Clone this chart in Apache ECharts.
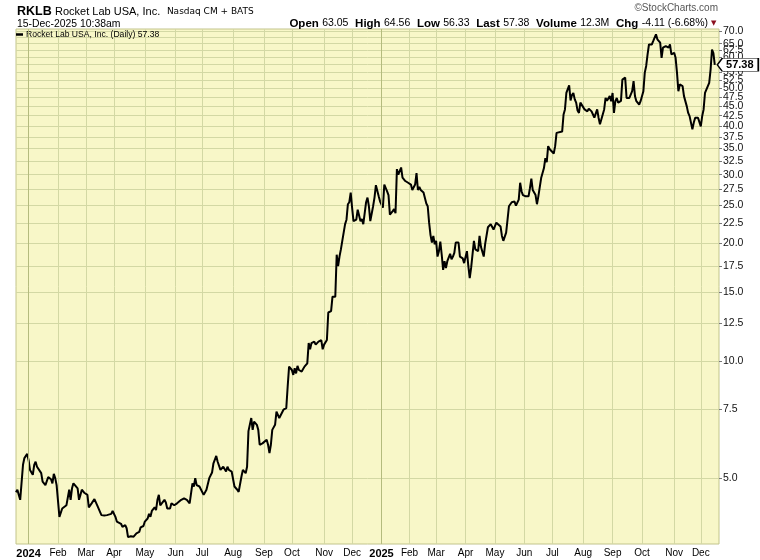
<!DOCTYPE html>
<html><head><meta charset="utf-8">
<script src="https://cdn.jsdelivr.net/npm/echarts@6/dist/echarts.min.js"></script>
<style>html,body{margin:0;padding:0;background:#fff}#c{width:760px;height:560px}</style>
</head><body><div id="c"></div>
<script>
// ---- axis definitions ----
const firstDay = '2023-12-18';
const lastDay = '2025-12-18';   // last close is 2025-12-15; three empty sessions pad the right edge
const holidays = ['2023-12-25','2024-01-01','2024-01-15','2024-02-19','2024-03-29','2024-05-27','2024-06-19','2024-07-04','2024-09-02','2024-11-28','2024-12-25','2025-01-01','2025-01-09','2025-01-20','2025-02-17','2025-04-18','2025-05-26','2025-06-19','2025-07-04','2025-09-01','2025-11-27','2025-12-25'];
const monthNames = ['Jan','Feb','Mar','Apr','May','Jun','Jul','Aug','Sep','Oct','Nov','Dec'];
const yTicks = [5.0,7.5,10.0,12.5,15.0,17.5,20.0,22.5,25.0,27.5,30.0,32.5,35.0,37.5,40.0,42.5,45.0,47.5,50.0,52.5,55.0,57.5,60.0,62.5,65.0,67.5,70.0];
const yearLines = ['2024-01-02','2025-01-02'];

// ---- daily closes ----
const prices2023 = [['2023-12-18',4.60],['2023-12-19',4.67],['2023-12-20',4.53],['2023-12-21',4.40],['2023-12-22',4.45],['2023-12-26',5.41],['2023-12-27',5.63],['2023-12-29',5.77]];
const prices2024 = [
['2024-01-02',5.56],['2024-01-03',5.25],['2024-01-04',5.20],['2024-01-05',5.10],['2024-01-08',5.41],['2024-01-09',5.51],['2024-01-10',5.35],['2024-01-11',5.30],['2024-01-16',5.15],['2024-01-17',4.90],['2024-01-19',4.80],['2024-01-23',5.03],['2024-01-25',4.97],['2024-01-26',4.85],['2024-01-29',5.13],['2024-01-30',5.00],['2024-01-31',4.80],
['2024-02-02',3.98],['2024-02-06',4.18],['2024-02-09',4.26],['2024-02-12',4.31],['2024-02-13',4.67],['2024-02-14',4.40],['2024-02-15',4.71],['2024-02-16',4.85],['2024-02-20',4.85],['2024-02-22',4.71],['2024-02-23',4.40],['2024-02-26',4.53],['2024-02-27',4.67],['2024-02-29',4.58],
['2024-03-04',4.53],['2024-03-05',4.21],['2024-03-07',4.31],['2024-03-11',4.42],['2024-03-12',4.47],['2024-03-13',4.26],['2024-03-14',4.21],['2024-03-18',4.02],['2024-03-20',4.01],['2024-03-22',4.02],['2024-03-27',4.05],['2024-03-28',4.12],
['2024-04-02',3.98],['2024-04-03',3.87],['2024-04-08',3.82],['2024-04-09',3.75],['2024-04-11',3.79],['2024-04-12',3.72],['2024-04-15',3.53],['2024-04-17',3.55],['2024-04-19',3.54],['2024-04-23',3.61],['2024-04-25',3.64],['2024-04-26',3.74],['2024-04-30',3.77],
['2024-05-01',3.87],['2024-05-03',3.94],['2024-05-06',4.05],['2024-05-07',3.98],['2024-05-08',4.12],['2024-05-10',4.21],['2024-05-13',4.14],['2024-05-14',4.40],['2024-05-15',4.53],['2024-05-16',4.26],['2024-05-17',4.21],['2024-05-21',4.40],['2024-05-22',4.33],['2024-05-23',4.18],['2024-05-28',4.18],['2024-05-29',4.31],['2024-05-31',4.26],
['2024-06-04',4.31],['2024-06-07',4.40],['2024-06-11',4.44],['2024-06-13',4.40],['2024-06-17',4.31],['2024-06-20',4.85],['2024-06-21',4.76],['2024-06-24',5.00],['2024-06-25',4.80],['2024-06-27',4.76],['2024-06-28',4.80],
['2024-07-02',4.53],['2024-07-05',4.67],['2024-07-09',5.00],['2024-07-11',5.17],['2024-07-12',5.46],['2024-07-16',5.70],['2024-07-17',5.51],['2024-07-19',5.25],['2024-07-22',5.20],['2024-07-23',5.35],['2024-07-25',5.20],['2024-07-26',5.35],['2024-07-29',5.25],['2024-07-31',5.20],
['2024-08-02',4.76],['2024-08-06',4.67],['2024-08-07',4.61],['2024-08-09',5.05],['2024-08-12',5.25],['2024-08-14',5.15],['2024-08-15',5.35],['2024-08-16',6.60],['2024-08-20',7.13],['2024-08-21',6.65],['2024-08-22',6.98],['2024-08-26',6.85],['2024-08-27',6.65],['2024-08-28',6.09],['2024-08-29',6.03],['2024-08-30',6.14],
['2024-09-03',6.09],['2024-09-05',6.27],['2024-09-06',6.09],['2024-09-09',5.80],['2024-09-10',6.09],['2024-09-11',6.65],['2024-09-13',6.85],['2024-09-16',7.41],['2024-09-18',7.13],['2024-09-19',7.13],['2024-09-23',7.49],['2024-09-25',7.56],['2024-09-26',8.59],['2024-09-27',9.66],
['2024-10-01',9.47],['2024-10-02',9.20],['2024-10-03',9.57],['2024-10-04',9.28],['2024-10-07',9.70],['2024-10-08',9.47],['2024-10-10',9.38],['2024-10-14',9.66],['2024-10-16',9.85],['2024-10-17',11.1],['2024-10-18',10.7],['2024-10-21',11.1],['2024-10-23',11.2],['2024-10-24',11.0],['2024-10-28',11.2],['2024-10-30',11.3],['2024-10-31',10.7],
['2024-11-01',11.0],['2024-11-05',11.3],['2024-11-06',13.3],['2024-11-08',13.4],['2024-11-11',14.6],['2024-11-13',14.6],['2024-11-14',18.7],['2024-11-15',17.5],['2024-11-18',18.5],['2024-11-19',19.3],['2024-11-20',20.3],['2024-11-21',20.2],['2024-11-22',22.4],['2024-11-25',23.0],['2024-11-26',25.2],['2024-11-27',25.5],['2024-11-29',27.0],
['2024-12-02',24.7],['2024-12-03',22.8],['2024-12-05',23.0],['2024-12-06',24.4],['2024-12-10',22.8],['2024-12-11',23.1],['2024-12-12',22.4],['2024-12-16',25.5],['2024-12-17',26.2],['2024-12-18',24.9],['2024-12-19',22.8],['2024-12-20',22.8],['2024-12-23',24.9],['2024-12-24',26.2],['2024-12-26',28.2],['2024-12-30',26.4],['2024-12-31',25.6]
];
const prices2025 = [
['2025-01-03',24.7],['2025-01-06',28.3],['2025-01-07',28.3],['2025-01-08',27.2],['2025-01-10',26.6],['2025-01-13',23.7],['2025-01-15',24.2],['2025-01-16',24.5],['2025-01-17',23.9],['2025-01-21',31.0],['2025-01-22',30.0],['2025-01-24',31.3],['2025-01-27',29.5],['2025-01-29',28.9],['2025-01-30',28.6],['2025-01-31',28.6],
['2025-02-03',28.3],['2025-02-04',28.3],['2025-02-05',27.4],['2025-02-07',28.3],['2025-02-10',30.3],['2025-02-11',27.4],['2025-02-12',27.9],['2025-02-13',27.4],['2025-02-18',27.0],['2025-02-20',25.3],['2025-02-21',24.9],['2025-02-24',22.6],['2025-02-25',21.0],['2025-02-26',20.1],['2025-02-27',20.9],['2025-02-28',19.9],
['2025-03-03',20.3],['2025-03-04',18.5],['2025-03-05',19.1],['2025-03-06',20.2],['2025-03-07',18.7],['2025-03-10',17.1],['2025-03-11',18.0],['2025-03-12',17.3],['2025-03-13',18.0],['2025-03-17',18.8],['2025-03-18',18.2],['2025-03-19',18.5],['2025-03-20',18.9],['2025-03-21',20.1],['2025-03-25',20.1],['2025-03-26',18.5],['2025-03-28',18.3],['2025-03-31',17.8],
['2025-04-02',19.1],['2025-04-03',17.5],['2025-04-04',16.3],['2025-04-07',17.3],['2025-04-08',17.1],['2025-04-09',20.3],['2025-04-10',19.3],['2025-04-14',19.1],['2025-04-15',20.9],['2025-04-16',19.6],['2025-04-21',18.5],['2025-04-22',19.9],['2025-04-24',22.0],['2025-04-28',22.4],['2025-04-29',22.4],['2025-04-30',21.7],
['2025-05-02',22.6],['2025-05-05',22.4],['2025-05-07',22.1],['2025-05-08',20.9],['2025-05-09',20.3],['2025-05-13',21.3],['2025-05-14',23.0],['2025-05-15',24.9],['2025-05-19',25.5],['2025-05-20',25.4],['2025-05-21',25.6],['2025-05-22',25.0],['2025-05-27',25.9],['2025-05-28',28.6],['2025-05-29',27.2],['2025-05-30',26.6],
['2025-06-03',26.4],['2025-06-05',26.4],['2025-06-06',27.7],['2025-06-09',29.3],['2025-06-10',27.4],['2025-06-12',26.6],['2025-06-13',25.2],['2025-06-16',26.4],['2025-06-17',26.4],['2025-06-18',29.4],['2025-06-23',31.2],['2025-06-24',33.1],['2025-06-25',32.3],['2025-06-26',35.5],['2025-06-27',34.9],['2025-06-30',35.2],
['2025-07-02',34.0],['2025-07-03',35.5],['2025-07-07',38.4],['2025-07-08',38.7],['2025-07-11',38.7],['2025-07-14',42.8],['2025-07-15',44.1],['2025-07-16',48.6],['2025-07-18',50.8],['2025-07-21',46.5],['2025-07-22',48.0],['2025-07-23',48.6],['2025-07-24',46.8],['2025-07-25',45.9],['2025-07-28',43.8],['2025-07-29',43.2],['2025-07-30',45.9],
['2025-08-01',44.7],['2025-08-04',44.1],['2025-08-06',43.6],['2025-08-07',44.3],['2025-08-11',43.6],['2025-08-12',42.8],['2025-08-13',42.0],['2025-08-15',44.1],['2025-08-18',42.0],['2025-08-19',40.4],['2025-08-20',40.8],['2025-08-22',44.1],['2025-08-25',47.2],['2025-08-26',46.4],['2025-08-28',47.7],['2025-08-29',46.3],
['2025-09-02',48.6],['2025-09-03',43.2],['2025-09-04',46.3],['2025-09-05',47.2],['2025-09-08',45.9],['2025-09-10',46.4],['2025-09-11',52.6],['2025-09-15',53.2],['2025-09-16',47.2],['2025-09-18',47.2],['2025-09-19',47.2],['2025-09-22',49.1],['2025-09-23',52.1],['2025-09-24',47.7],['2025-09-25',46.3],['2025-09-29',45.4],['2025-09-30',46.3],
['2025-10-02',49.1],['2025-10-03',54.8],['2025-10-06',57.0],['2025-10-07',61.0],['2025-10-08',64.7],['2025-10-09',65.4],['2025-10-10',64.7],['2025-10-13',66.0],['2025-10-15',68.7],['2025-10-16',66.7],['2025-10-17',67.3],['2025-10-20',65.4],['2025-10-21',59.8],['2025-10-22',63.5],['2025-10-24',64.1],['2025-10-27',64.7],['2025-10-28',63.5],['2025-10-29',64.7],['2025-10-30',61.0],
['2025-11-03',61.6],['2025-11-04',59.8],['2025-11-05',54.8],['2025-11-06',49.1],['2025-11-07',51.1],['2025-11-11',50.6],['2025-11-12',47.7],['2025-11-14',44.9],['2025-11-17',43.2],['2025-11-18',42.4],['2025-11-20',39.2],['2025-11-21',40.8],['2025-11-24',42.0],['2025-11-26',42.0],['2025-11-28',41.6],
['2025-12-01',39.9],['2025-12-02',42.4],['2025-12-03',44.1],['2025-12-04',48.6],['2025-12-05',48.8],['2025-12-09',51.6],['2025-12-10',55.8],['2025-12-11',62.8],['2025-12-12',61.49],['2025-12-15',57.38]
];

// ---- header texts ----
const symbolName = 'RKLB';
const companyName = 'Rocket Lab USA, Inc.';
const exchangeName = 'Nasdaq CM + BATS';
const stampText = '15-Dec-2025 10:38am';
const quoteLabels = ['Open','High','Low','Last','Volume','Chg'];
const quoteValues = ['63.05','64.56','56.33','57.38','12.3M','-4.11 (-6.68%)'];
const seriesName = 'Rocket Lab USA, Inc. (Daily) 57.38';
const lastClose = prices2025[prices2025.length - 1];

// ---- build trading-day categories ----
const pad = n => (n < 10 ? '0' : '') + n;
const tradingDays = [];
{
  const hol = new Set(holidays);
  const d = new Date(firstDay + 'T00:00:00Z');
  const end = new Date(lastDay + 'T00:00:00Z');
  while (d <= end) {
    const wd = d.getUTCDay();
    const s = d.getUTCFullYear() + '-' + pad(d.getUTCMonth() + 1) + '-' + pad(d.getUTCDate());
    if (wd !== 0 && wd !== 6 && !hol.has(s)) tradingDays.push(s);
    d.setUTCDate(d.getUTCDate() + 1);
  }
}
const isMonthStart = i => i > 0 && tradingDays[i].slice(5, 7) !== tradingDays[i - 1].slice(5, 7);

const FONT = '"Liberation Sans", Arial, sans-serif';
const GRID_COLOR = '#d3d8a4';

let quoteText = '';
quoteLabels.forEach((l, i) => { quoteText += (i ? '  ' : '') + '{b|' + l + '} {v|' + quoteValues[i] + '}'; });

const chart = echarts.init(document.getElementById('c'), null, { renderer: 'canvas' });
chart.setOption({
  animation: false,
  backgroundColor: '#ffffff',
  textStyle: { fontFamily: FONT },
  grid: { left: 16, right: 41, top: 29, bottom: 16, show: true, backgroundColor: '#f8f7c8', borderColor: '#c2c48c', borderWidth: 1, outerBoundsMode: 'none', containLabel: false },
  legend: {
    left: 16, top: 30, icon: 'rect', itemWidth: 7, itemHeight: 2.5, padding: 0,
    data: [seriesName],
    textStyle: { fontFamily: FONT, fontSize: 8.6, color: '#000', padding: [0, 0, 0, -2] }
  },
  xAxis: {
    type: 'category', data: tradingDays, boundaryGap: false,
    axisLine: { show: false }, axisTick: { show: false },
    axisLabel: {
      interval: (i) => isMonthStart(i), margin: 4, color: '#000', fontSize: 10, fontFamily: FONT,
      formatter: (v) => { const m = +v.slice(5, 7); return m === 1 ? '{y|' + v.slice(0, 4) + '}' : monthNames[m - 1]; },
      rich: { y: { fontWeight: 'bold', fontSize: 11, fontFamily: FONT, color: '#000' } }
    },
    splitLine: { show: true, interval: (i) => isMonthStart(i), lineStyle: { color: GRID_COLOR, width: 1 } }
  },
  yAxis: {
    type: 'log', logBase: 10, min: 3.39, max: 70.9, position: 'right',
    axisLine: { show: false },
    axisTick: { show: true, customValues: yTicks, length: 3, lineStyle: { color: '#777' } },
    axisLabel: { customValues: yTicks, showMaxLabel: true, showMinLabel: true, hideOverlap: false, margin: 4, color: '#111', fontSize: 10.5, fontFamily: FONT, formatter: (v) => Number(v).toFixed(1) },
    splitLine: { show: true, lineStyle: { color: GRID_COLOR, width: 1 } },
    minorTick: { show: false }, minorSplitLine: { show: false }
  },
  graphic: [
    { type: 'text', x: 17, y: 11.5, style: { text: '{a|' + symbolName + '} {c|' + companyName + '}  {d|' + exchangeName + '}', verticalAlign: 'middle',
      rich: { a: { fontFamily: FONT, fontWeight: 'bold', fontSize: 12.5, fill: '#000' }, c: { fontFamily: FONT, fontSize: 11, fill: '#000' }, d: { fontFamily: '"DejaVu Sans", sans-serif', fontSize: 9, fill: '#000' } } } },
    { type: 'text', x: 17, y: 24, style: { text: stampText, verticalAlign: 'middle', fontFamily: FONT, fontSize: 10.4, fill: '#000' } },
    { type: 'text', x: 708, y: 23.5, style: { text: quoteText, align: 'right', verticalAlign: 'middle',
      rich: { b: { fontFamily: FONT, fontWeight: 'bold', fontSize: 11.5, fill: '#000' }, v: { fontFamily: FONT, fontSize: 10.5, fill: '#000' } } } },
    { type: 'text', x: 711, y: 23, style: { text: '\u25BC', verticalAlign: 'middle', fontFamily: '"DejaVu Sans", sans-serif', fontSize: 7, fill: '#8b1020' } },
    { type: 'text', x: 718, y: 8.5, style: { text: '\u00A9StockCharts.com', align: 'right', verticalAlign: 'middle', fontFamily: FONT, fontSize: 10, fill: '#555' } }
  ],
  series: [{
    name: seriesName, type: 'line', showSymbol: false, symbol: 'none',
    data: [...prices2023, ...prices2024, ...prices2025],
    lineStyle: { color: '#000', width: 2 }, itemStyle: { color: '#000' },
    markLine: {
      silent: true, symbol: 'none', label: { show: false },
      lineStyle: { color: '#b4bb7e', type: 'solid', width: 1 },
      data: yearLines.map(d => ({ xAxis: d }))
    },
    markPoint: {
      silent: true,
      symbol: 'path://M0,6 L5,0 L42,0 L42,12 L5,12 Z', symbolSize: [41, 13], symbolKeepAspect: false, symbolOffset: [23, 0],
      itemStyle: { color: '#fff', borderColor: '#000', borderWidth: 1 },
      label: { show: true, position: 'inside', offset: [2, 0], color: '#000', fontWeight: 'bold', fontSize: 11, fontFamily: FONT, formatter: () => lastClose[1].toFixed(2) },
      data: [{ coord: [lastClose[0], lastClose[1]] }]
    }
  }]
});
</script></body></html>
